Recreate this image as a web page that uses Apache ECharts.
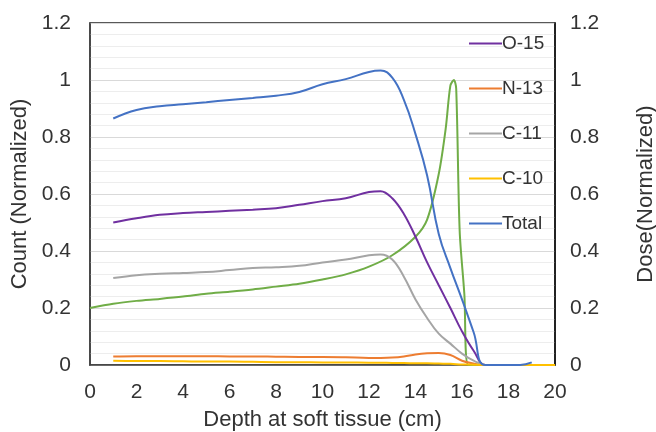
<!DOCTYPE html>
<html lang="en">
<head>
    <meta charset="UTF-8">
    <title>Count and Dose vs Depth</title>
    <script src="https://cdn.jsdelivr.net/npm/echarts@6/dist/echarts.min.js"></script>
    <style>
        html, body { margin: 0; padding: 0; background: #fff; }
        #main { width: 656px; height: 432px; }
    </style>
</head>
<body>
    <div id="main"></div>
    <script>
        // depth (cm) for the isotope curves
        var depth = [1, 2, 3, 4, 5, 6, 7, 8, 9, 10, 11, 12, 12.5, 13, 13.5, 14, 14.5, 15, 15.5, 16, 16.5, 17, 18, 18.5, 19, 20];
        var o15   = [0.5, 0.515, 0.527, 0.533, 0.537, 0.541, 0.545, 0.55, 0.562, 0.575, 0.585, 0.607, 0.61, 0.585, 0.53, 0.45, 0.36, 0.28, 0.2, 0.118, 0.05, 0, 0, 0, 0, 0];
        var n13   = [0.03, 0.031, 0.031, 0.031, 0.031, 0.03, 0.03, 0.029, 0.028, 0.028, 0.027, 0.025, 0.025, 0.026, 0.03, 0.037, 0.041, 0.042, 0.035, 0.015, 0.005, 0, 0, 0, 0, 0];
        var c11   = [0.305, 0.315, 0.32, 0.323, 0.326, 0.333, 0.34, 0.343, 0.348, 0.36, 0.37, 0.385, 0.388, 0.37, 0.31, 0.23, 0.165, 0.11, 0.075, 0.04, 0.015, 0, 0, 0, 0, 0];
        var c10   = [0.015, 0.014, 0.014, 0.013, 0.012, 0.012, 0.011, 0.01, 0.01, 0.009, 0.009, 0.008, 0.008, 0.007, 0.007, 0.006, 0.006, 0.005, 0.004, 0.002, 0.001, 0, 0, 0, 0, 0];
        var total = [0.865, 0.895, 0.908, 0.915, 0.922, 0.93, 0.937, 0.945, 0.958, 0.985, 1.003, 1.028, 1.033, 1.008, 0.93, 0.81, 0.665, 0.46, 0.34, 0.23, 0.115, 0, 0, 0, 0.009, null];

        // depth (cm) for the dose curve
        var doseDepth = [0, 1, 2, 3, 4, 5, 6, 7, 8, 9, 10, 11, 12, 13, 14, 14.5, 15, 15.3, 15.5, 15.65, 15.75, 15.9, 16.1, 16.27, 17, 18, 19, 20];
        var dose      = [0.2, 0.215, 0.225, 0.232, 0.24, 0.25, 0.257, 0.265, 0.275, 0.285, 0.3, 0.318, 0.345, 0.385, 0.45, 0.51, 0.67, 0.83, 0.98, 1.0, 0.97, 0.47, 0.25, 0, 0, 0, 0, 0];

        var xTicks = [0, 2, 4, 6, 8, 10, 12, 14, 16, 18, 20];

        function pairs(xs, ys) {
            return xs.map(function (x, i) { return [x, ys[i]]; });
        }

        function line(name, xs, ys, color, axis, smooth) {
            return {
                name: name,
                type: 'line',
                yAxisIndex: axis,
                data: pairs(xs, ys),
                smooth: smooth,
                symbol: 'none',
                lineStyle: { color: color, width: 2 },
                itemStyle: { color: color }
            };
        }

        var font = 'Liberation Sans';
        var myChart = echarts.init(document.getElementById('main'));
        var option = {
            animation: false,
            textStyle: { fontFamily: font },
            grid: {
                left: 90, right: 101, top: 23, bottom: 67,
                outerBoundsMode: 'none',
                containLabel: false,
                show: true, borderColor: '#222', borderWidth: 1.5
            },
            legend: {
                orient: 'vertical',
                left: 469, top: 34,
                padding: 0,
                icon: 'rect',
                itemWidth: 33, itemHeight: 2,
                itemGap: 26,
                data: ['O-15', 'N-13', 'C-11', 'C-10', 'Total'],
                textStyle: { fontSize: 19, color: '#333', padding: [0, 0, 0, -5] }
            },
            xAxis: {
                type: 'value',
                min: 0, max: 20, interval: 2,
                name: 'Depth at soft tissue (cm)',
                nameLocation: 'middle',
                nameGap: 44,
                nameTextStyle: { fontSize: 22, color: '#333' },
                axisLine: { show: true, lineStyle: { color: '#444', width: 1.5 } },
                axisTick: { show: false },
                splitLine: { show: false },
                axisLabel: {
                    fontSize: 21, color: '#333', margin: 17,
                    customValues: xTicks
                }
            },
            yAxis: [{
                type: 'value',
                min: 0, max: 1.2, interval: 0.2,
                name: 'Count (Normalized)',
                nameLocation: 'middle',
                nameGap: 57,
                nameTextStyle: { fontSize: 22, color: '#333' },
                axisLine: { show: true, lineStyle: { color: '#444', width: 1.5 } },
                axisTick: { show: false },
                axisLabel: { fontSize: 21, color: '#333', margin: 19 },
                splitLine: { show: true, lineStyle: { color: '#d9d9d9', width: 1 } },
                minorTick: { show: false, splitNumber: 5 },
                minorSplitLine: { show: true, lineStyle: { color: '#ededed', width: 1 } }
            }, {
                type: 'value',
                min: 0, max: 1.2, interval: 0.2,
                position: 'right',
                name: 'Dose(Normalized)',
                nameLocation: 'middle',
                nameGap: 80,
                nameRotate: 90,
                nameTextStyle: { fontSize: 22, color: '#333' },
                axisLine: { show: true, lineStyle: { color: '#111', width: 1.5 } },
                axisTick: { show: false },
                axisLabel: { fontSize: 21, color: '#333', margin: 15 },
                splitLine: { show: false }
            }],
            series: [
                line('Dose', doseDepth, dose, '#70AD47', 1, 0.3),
                line('O-15', depth, o15, '#7030A0', 0, 0.4),
                line('N-13', depth, n13, '#ED7D31', 0, 0.4),
                line('C-11', depth, c11, '#A5A5A5', 0, 0.4),
                line('C-10', depth, c10, '#FFC000', 0, 0.4),
                line('Total', depth, total, '#4472C4', 0, 0.45)
            ]
        };
        myChart.setOption(option);
    </script>
</body>
</html>
